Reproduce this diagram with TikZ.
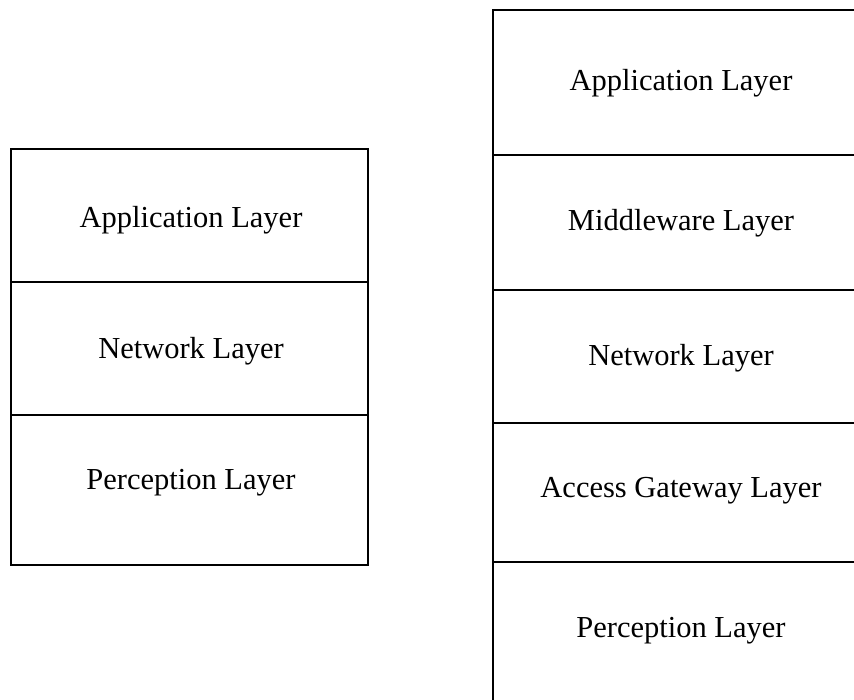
\documentclass[tikz,border=0pt]{standalone}
\usepackage{fontspec}
\setmainfont{Liberation Serif}
\tikzset{layer/.style={font=\fontsize{30.5}{36}\selectfont},
  box/.style={line width=2pt,black}}

\begin{document}
\begin{tikzpicture}[x=1pt,y=-1pt]
  \useasboundingbox (0,0) rectangle (854,700);
  \clip (0,0) rectangle (854,700);
  % left stack
  \draw[box] (10.5,149) rectangle (367.5,565);
  \draw[box] (10.5,282) -- (367.5,282);
  \draw[box] (10.5,415) -- (367.5,415);
  \node[layer] (la) at (191,220) {Application Layer};
  \node[layer] (ln) at (191,351) {Network Layer};
  \node[layer] (lp) at (191,483) {Perception Layer};
  % right stack
  \draw[box] (493,720) -- (493,10) -- (880,10);
  \foreach \y in {155,290,423,562}
    \draw[box] (493,\y) -- (880,\y);
  \node[layer] (ra) at (681,83) {Application Layer};
  \node[layer] (rm) at (681,223) {Middleware Layer};
  \node[layer] (rn) at (681,358) {Network Layer};
  \node[layer] (rg) at (681,491) {Access Gateway Layer};
  \node[layer] (rp) at (681,631) {Perception Layer};
\end{tikzpicture}
\end{document}
